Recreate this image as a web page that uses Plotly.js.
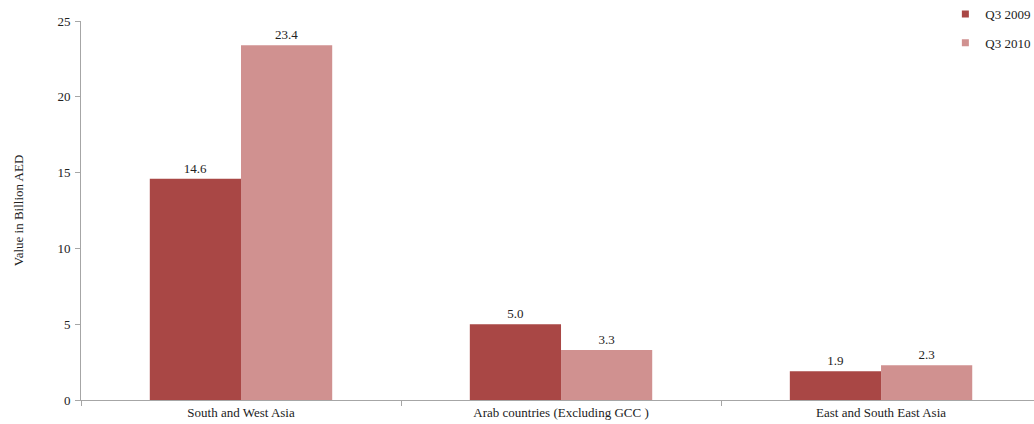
<!DOCTYPE html>
<html>
<head>
<meta charset="utf-8">
<script src="https://cdn.plot.ly/plotly-3.0.1.min.js"></script>
<style>html,body{margin:0;padding:0;background:#fff;}#chart{width:1034px;height:424px;}</style>
</head>
<body>
<div id="chart"></div>
<script>
const categories = ["South and West Asia", "Arab countries (Excluding GCC )", "East and South East Asia"];
const seriesNames = ["Q3 2009", "Q3 2010"];
const seriesColors = ["#A94745", "#D09190"];
const q3_2009 = [14.6, 5.0, 1.9];
const q3_2010 = [23.4, 3.3, 2.3];
const yTicks = [0, 5, 10, 15, 20, 25];

const font = {family: "'Liberation Serif', 'Times New Roman', serif", size: 13, color: "#222"};

const values = [q3_2009, q3_2010];
const traces = [];
values.forEach((vals, i) => {
  traces.push({type: "bar", name: seriesNames[i], x: categories, y: vals,
    marker: {color: seriesColors[i]}, text: vals.map(v => v.toFixed(1)),
    textposition: "outside", cliponaxis: false, textfont: font,
    showlegend: false, legendgroup: "g" + i});
});
// legend entries with small square swatches
values.forEach((vals, i) => {
  traces.push({type: "scatter", mode: "markers", name: seriesNames[i],
    x: [null], y: [null], marker: {symbol: "square", size: 7, color: seriesColors[i]},
    showlegend: true, legendgroup: "g" + i, hoverinfo: "skip"});
});

const layout = {
  width: 1034, height: 424,
  margin: {l: 81, r: 0, t: 21, b: 24, autoexpand: false},
  paper_bgcolor: "#fff", plot_bgcolor: "#fff",
  font: font,
  barmode: "group", bargap: 0.43, bargroupgap: 0,
  showlegend: true,
  legend: {x: 0.907, y: 1.058, xanchor: "left", yanchor: "top",
           font: font, tracegroupgap: 9, itemwidth: 30},
  xaxis: {type: "category", range: [-0.5, 2.478], showgrid: false,
          showline: true, linecolor: "#a6a6a6", linewidth: 1,
          ticks: "outside", tickson: "boundaries", ticklen: 5, tickcolor: "#a6a6a6",
          tickfont: font, fixedrange: true, automargin: false},
  yaxis: {range: [0, 25], tickvals: yTicks, showgrid: false, zeroline: false,
          showline: true, linecolor: "#a6a6a6", linewidth: 1,
          ticks: "outside", ticklen: 5, tickcolor: "#a6a6a6",
          tickfont: font, ticklabelstandoff: 2, automargin: false,
          title: {text: "Value in Billion AED", font: font, standoff: 30}}
};

Plotly.newPlot("chart", traces, layout, {displayModeBar: false, staticPlot: true});
</script>
</body>
</html>
